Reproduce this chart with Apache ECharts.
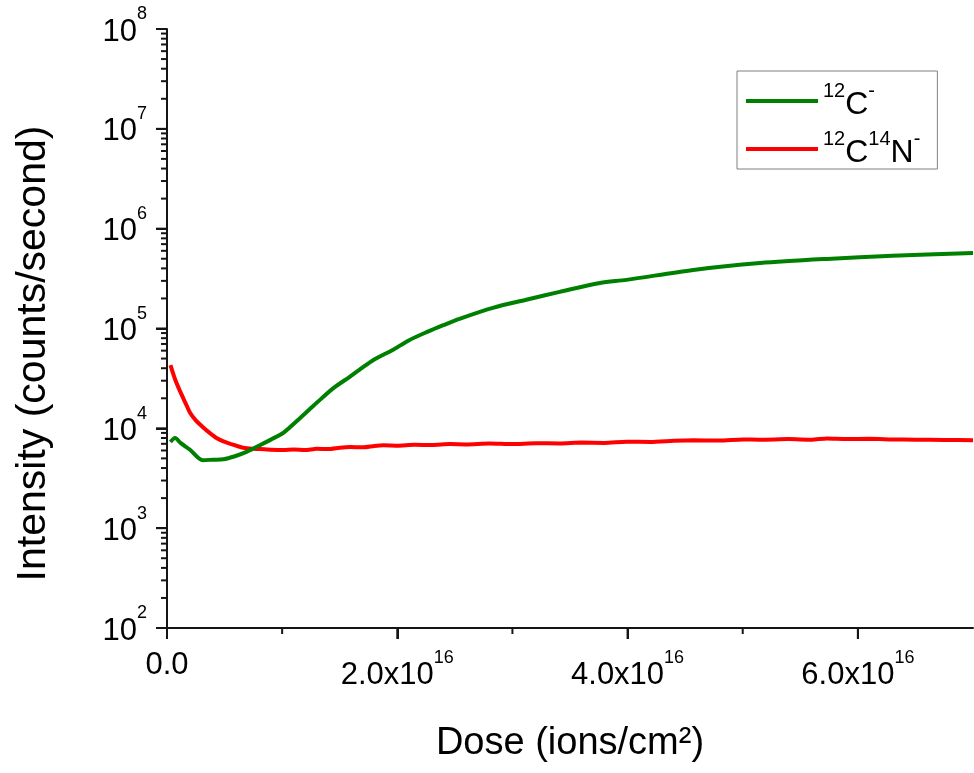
<!DOCTYPE html>
<html>
<head>
<meta charset="utf-8">
<script src="https://cdn.jsdelivr.net/npm/echarts@6/dist/echarts.min.js"></script>
<style>
  html, body { margin: 0; padding: 0; background: #fff; }
  #chart { width: 974px; height: 773px; }
</style>
</head>
<body>
<div id="chart"></div>
<script>
// ---- Data (dose in ions/cm^2, intensity in counts/second) ----
var seriesNames = ['12C-', '12C14N-'];

var doseC = [0.03e16, 0.07e16, 0.12e16, 0.20e16, 0.31e16, 0.40e16, 0.49e16, 0.59e16, 0.69e16, 0.81e16,
             0.91e16, 1.01e16, 1.15e16, 1.30e16, 1.44e16, 1.59e16, 1.67e16, 1.80e16, 1.96e16, 2.10e16,
             2.26e16, 2.40e16, 2.54e16, 2.83e16, 3.12e16, 3.41e16, 3.76e16, 3.99e16, 4.57e16, 5.15e16,
             5.73e16, 6.30e16, 7.00e16];
var intensityC = [7300, 8000, 7100, 6100, 4800, 4850, 4900, 5250, 5800, 6800,
                  7800, 9000, 12500, 18000, 25000, 33000, 38500, 49000, 61000, 76000,
                  92500, 108000, 125000, 161000, 194000, 233000, 286000, 307000, 386000, 452000,
                  498000, 535000, 572000];

var doseCN = [0.03e16, 0.07e16, 0.11e16, 0.16e16, 0.20e16, 0.25e16, 0.31e16, 0.37e16, 0.43e16, 0.49e16,
              0.55e16, 0.61e16, 0.66e16, 0.74e16, 0.81e16, 0.90e16, 1.01e16, 1.10e16, 1.20e16, 1.30e16,
              1.40e16, 1.50e16, 1.59e16, 1.70e16, 1.80e16, 1.88e16, 2.00e16, 2.15e16, 2.30e16, 2.46e16,
              2.60e16, 2.80e16, 3.00e16, 3.20e16, 3.41e16, 3.60e16, 3.80e16, 3.99e16, 4.20e16, 4.40e16,
              4.57e16, 4.80e16, 5.00e16, 5.15e16, 5.40e16, 5.60e16, 5.73e16, 5.90e16, 6.10e16, 6.30e16,
              6.50e16, 6.75e16, 7.00e16];
var intensityCN = [43000, 31000, 24000, 18000, 14300, 12000, 10300, 9000, 8000, 7400,
                   7000, 6650, 6400, 6250, 6200, 6100, 6050, 6150, 6050, 6250,
                   6200, 6400, 6500, 6450, 6650, 6750, 6700, 6850, 6800, 6950,
                   6900, 7050, 6950, 7100, 7050, 7200, 7150, 7350, 7300, 7500,
                   7600, 7550, 7750, 7700, 7800, 7700, 7900, 7800, 7850, 7750,
                   7700, 7650, 7600];

// ---- Axis ranges & tick values ----
var xMin = 0, xMax = 7e16, xStep = 2e16;
var yMin = 1e2, yMax = 1e8;
var xMajorTicks = [0, 2e16, 4e16, 6e16];
var xMinorTicks = [1e16, 3e16, 5e16];
var yMajorTicks = [1e2, 1e3, 1e4, 1e5, 1e6, 1e7, 1e8];
var yMinorTicks = [];
[1e2, 1e3, 1e4, 1e5, 1e6, 1e7].forEach(function (d) {
  for (var k = 2; k <= 9; k++) yMinorTicks.push(d * k);
});

var FONT = '"Liberation Sans", Arial, sans-serif';
var AX = '#151515';

function pairs(xs, ys) { return xs.map(function (x, i) { return [x, ys[i]]; }); }

var chart = echarts.init(document.getElementById('chart'), null, { renderer: 'canvas' });

var option = {
  backgroundColor: '#ffffff',
  animation: false,
  grid: { left: 167, right: 1, top: 29, bottom: 145 },
  legend: {
    orient: 'vertical',
    left: 737, top: 71,
    padding: [10, 17, 0, 9],
    itemGap: 8,
    itemWidth: 72, itemHeight: 4,
    icon: 'rect',
    borderColor: '#808080', borderWidth: 1,
    backgroundColor: '#fff',
    data: seriesNames,
    formatter: function (name) {
      if (name === '12C-') return '{s|12}{b|C}{s|-}';
      return '{s|12}{b|C}{s|14}{b|N}{s|-}';
    },
    textStyle: {
      rich: {
        b: { fontFamily: FONT, fontSize: 32, lineHeight: 40, color: '#000', verticalAlign: 'bottom' },
        s: { fontFamily: FONT, fontSize: 20, lineHeight: 20, color: '#000', verticalAlign: 'top' }
      }
    }
  },
  xAxis: {
    type: 'value', min: xMin, max: xMax, interval: xStep,
    position: 'bottom',
    name: 'Dose (ions/cm\u00B2)',
    nameLocation: 'middle', nameGap: 95,
    nameTextStyle: { fontFamily: FONT, fontSize: 38, lineHeight: 42, color: '#000' },
    axisLine: { show: true, onZero: false, lineStyle: { color: AX, width: 2 } },
    axisTick: { show: true, length: 11, lineStyle: { color: AX, width: 2 } },
    splitLine: { show: false },
    axisLabel: {
      showMaxLabel: false,
      margin: 21,
      formatter: function (v) {
        if (v === 0) return '{z|0.0}';
        return '{b|' + (v / 1e16).toFixed(1) + 'x10}{s|16}';
      },
      rich: {
        z: { fontFamily: FONT, fontSize: 31, lineHeight: 32, color: '#000' },
        b: { fontFamily: FONT, fontSize: 31, lineHeight: 42, color: '#000', verticalAlign: 'bottom' },
        s: { fontFamily: FONT, fontSize: 18, lineHeight: 18, color: '#000', verticalAlign: 'top' }
      }
    }
  },
  yAxis: {
    type: 'log', logBase: 10, min: yMin, max: yMax, splitNumber: 6,
    position: 'left',
    name: 'Intensity (counts/second)',
    nameLocation: 'middle', nameGap: 113,
    nameTextStyle: { fontFamily: FONT, fontSize: 41, color: '#000', padding: [0, 50, 0, 0] },
    axisLine: { show: true, lineStyle: { color: AX, width: 2 } },
    axisTick: { show: true, length: 11, lineStyle: { color: AX, width: 2 } },
    splitLine: { show: false },
    axisLabel: {
      margin: 20,
      padding: [0, 0, 5, 0],
      formatter: function (v) {
        return '{b|10}{s|' + Math.round(Math.log10(v)) + '}';
      },
      rich: {
        b: { fontFamily: FONT, fontSize: 31, lineHeight: 42, color: '#000', verticalAlign: 'bottom' },
        s: { fontFamily: FONT, fontSize: 18, lineHeight: 18, color: '#000', verticalAlign: 'top' }
      }
    }
  },
  series: [{
    name: seriesNames[0],
    type: 'line',
    data: pairs(doseC, intensityC),
    showSymbol: false, symbol: 'none',
    smooth: 0.3,
    z: 3,
    lineStyle: { color: '#008000', width: 4 },
    itemStyle: { color: '#008000' }
  }, {
    name: seriesNames[1],
    type: 'line',
    data: pairs(doseCN, intensityCN),
    showSymbol: false, symbol: 'none',
    smooth: 0.2,
    z: 2,
    lineStyle: { color: '#ff0000', width: 4 },
    itemStyle: { color: '#ff0000' }
  }]
};

chart.setOption(option);

// Tick marks, positioned through the chart's own axis scales, on a top layer
var ticks = [];
function yTick(v, len) {
  var p = chart.convertToPixel({ gridIndex: 0 }, [xMin, v]);
  ticks.push({ type: 'line', silent: true, zlevel: 1, z: 10,
    shape: { x1: p[0] - len, y1: p[1], x2: p[0], y2: p[1] },
    style: { stroke: AX, lineWidth: 2 } });
}
function xTick(v, len) {
  var p = chart.convertToPixel({ gridIndex: 0 }, [v, yMin]);
  ticks.push({ type: 'line', silent: true, zlevel: 1, z: 10,
    shape: { x1: p[0], y1: p[1], x2: p[0], y2: p[1] + len },
    style: { stroke: AX, lineWidth: 2 } });
}
yMajorTicks.forEach(function (v) { yTick(v, 11); });
yMinorTicks.forEach(function (v) { yTick(v, 6); });
xMajorTicks.forEach(function (v) { xTick(v, 11); });
xMinorTicks.forEach(function (v) { xTick(v, 6); });
chart.setOption({ graphic: ticks });
</script>
</body>
</html>
